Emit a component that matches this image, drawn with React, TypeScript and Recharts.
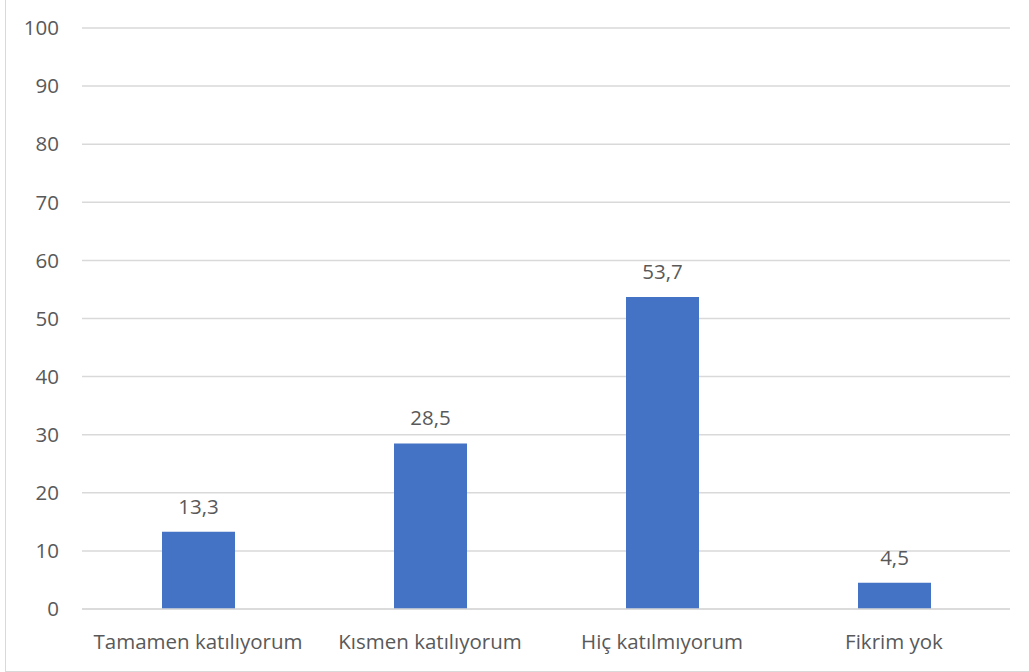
import React from "react";
import { BarChart, Bar, XAxis, YAxis, CartesianGrid, LabelList } from "recharts";

const categories = ["Tamamen katılıyorum", "Kısmen katılıyorum", "Hiç katılmıyorum", "Fikrim yok"];
const percentages = [13.3, 28.5, 53.7, 4.5];
const yTicks = [0, 10, 20, 30, 40, 50, 60, 70, 80, 90, 100];

const data = categories.map((name, i) => ({ name, value: percentages[i] }));

const FONT = "'Open Sans', 'Noto Sans', sans-serif";
const FONT_SIZE = 20.5;
const TEXT = "#595959";
const GRID = "#d9d9d9";

const formatComma = (v: number) => String(v).replace(".", ",");

export default function App() {
  return (
    <div style={{ position: "absolute", left: 0, top: 0, width: 1029, height: 672, background: "#fff", overflow: "hidden" }}>
      <div
        style={{
          position: "absolute",
          left: 5,
          top: -1,
          width: 1030,
          height: 673,
          border: "1.5px solid " + GRID,
          boxSizing: "border-box",
        }}
      />
      <BarChart
        width={1029}
        height={672}
        data={data}
        margin={{ top: 28, right: 19, bottom: 0, left: 22 }}
        barSize={73}
        style={{ position: "absolute", left: 0, top: 0 }}
      >
        <CartesianGrid vertical={false} stroke={GRID} strokeWidth={1.5} />
        <XAxis
          dataKey="name"
          height={63}
          axisLine={{ stroke: GRID, strokeWidth: 1.5 }}
          tickLine={false}
          tickMargin={19}
          tick={{ fill: TEXT, fontSize: FONT_SIZE, fontFamily: FONT }}
        />
        <YAxis
          domain={[0, 100]}
          ticks={yTicks}
          width={60}
          axisLine={false}
          tickLine={false}
          tickMargin={17}
          interval={0}
          tick={{ fill: TEXT, fontSize: FONT_SIZE, fontFamily: FONT }}
        />
        <Bar dataKey="value" fill="#4472C4" isAnimationActive={false}>
          <LabelList
            dataKey="value"
            position="top"
            offset={18}
            formatter={(v: any) => formatComma(v)}
            style={{ fill: TEXT, fontSize: FONT_SIZE, fontFamily: FONT }}
          />
        </Bar>
      </BarChart>
    </div>
  );
}
